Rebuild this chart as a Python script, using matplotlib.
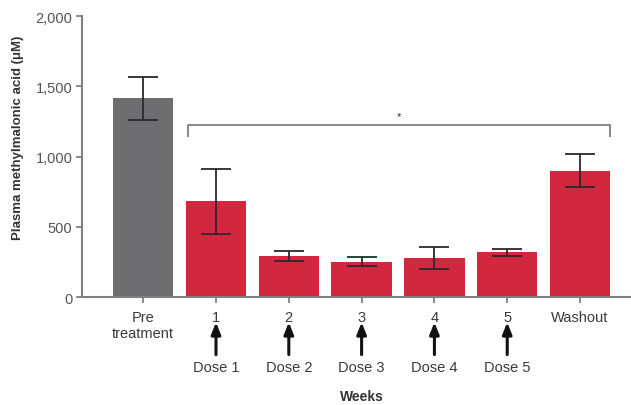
import numpy as np
import matplotlib
matplotlib.use("Agg")
import matplotlib.pyplot as plt
from matplotlib.ticker import FuncFormatter

plt.rcParams['font.family'] = ['Liberation Sans', 'DejaVu Sans']

categories = ['Pre\ntreatment', '1', '2', '3', '4', '5', 'Washout']
means = [1415, 680, 294, 252, 276, 318, 900]
errors = [153, 230, 36, 30, 80, 25, 116]
bar_colors = ['#6e6e70', '#d2283f', '#d2283f', '#d2283f', '#d2283f', '#d2283f', '#d2283f']
dose_labels = ['Dose 1', 'Dose 2', 'Dose 3', 'Dose 4', 'Dose 5']
dose_weeks = [1, 2, 3, 4, 5]
yticks = [0, 500, 1000, 1500, 2000]
bracket_y = 1226
bracket_drop = 80

fig = plt.figure(figsize=(6.31, 4.06), dpi=100)
ax = fig.add_axes([0.130, 0.266, 0.870, 0.692])

x = np.arange(len(categories))
ax.bar(x, means, width=0.83, color=bar_colors, zorder=2)
ax.errorbar(x, means, yerr=errors, fmt='none', ecolor='#2a2a2a',
            elinewidth=1.3, capsize=11, capthick=1.3, zorder=3)

ax.set_xlim(-0.84, 6.70)
ax.set_ylim(0, 2000)
ax.set_xticks(x)
ax.set_xticklabels(categories, fontsize=10.5, color='#3a3a3a', linespacing=1.15)
ax.set_yticks(yticks)
ax.yaxis.set_major_formatter(FuncFormatter(lambda v, p: f'{int(v):,}'))
ax.tick_params(axis='y', labelsize=10.5, labelcolor='#555555', length=4,
               width=1.2, color='#777777', pad=3)
ax.tick_params(axis='x', length=4, width=1.2, color='#777777', pad=5.5)

for s in ['top', 'right']:
    ax.spines[s].set_visible(False)
for s in ['left', 'bottom']:
    ax.spines[s].set_color('#808080')
    ax.spines[s].set_linewidth(1.5)

# significance bracket
bx0, bx1 = 0.62, 6.41
ax.plot([bx0, bx0, bx1, bx1],
        [bracket_y - bracket_drop, bracket_y, bracket_y, bracket_y - bracket_drop],
        color='#8c8c8c', lw=1.5, clip_on=False, zorder=1)
ax.text((bx0 + bx1) / 2, bracket_y + 25, '*', ha='center', va='bottom',
        fontsize=8, color='#333333')

# dose arrows
trans = ax.get_xaxis_transform()
for w, lab in zip(dose_weeks, dose_labels):
    ax.annotate('', xy=(w, -0.09), xycoords=trans, xytext=(w, -0.205),
                textcoords=trans,
                arrowprops=dict(arrowstyle='-|>,head_width=0.28,head_length=0.7',
                                lw=2.2, color='#111111', shrinkA=0, shrinkB=0))
    ax.text(w, -0.249, lab, transform=trans, ha='center', va='center',
            fontsize=10.5, color='#3a3a3a')

ax.text(3.0, -0.352, 'Weeks', transform=trans, ha='center', va='center',
        fontsize=10, fontweight='bold', color='#333333')
fig.text(0.028, 0.66, 'Plasma methylmalonic acid (\u03bcM)', rotation=90,
         ha='center', va='center', fontsize=9.5, fontweight='bold', color='#333333')

fig.savefig('out.png', dpi=100)
